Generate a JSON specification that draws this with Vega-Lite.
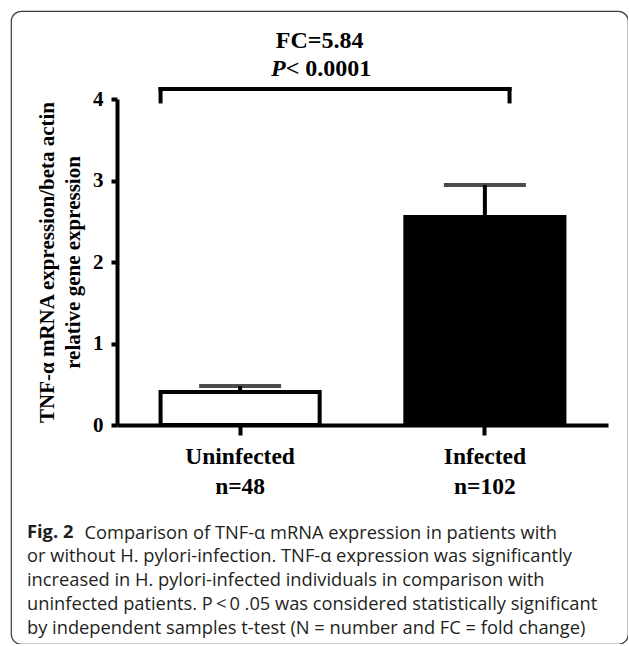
{
  "$schema": "https://vega.github.io/schema/vega-lite/v6.json",
  "width": 617,
  "height": 633,
  "autosize": {"type": "none"},
  "padding": {"left": 11, "top": 11, "right": 0, "bottom": 0},
  "background": "white",
  "config": {
    "view": {"stroke": "#3a3a3a", "strokeWidth": 1.2, "cornerRadius": 10},
    "axis": {"grid": false},
    "font": "Liberation Serif"
  },
  "title": {
    "text": "Fig. 2",
    "subtitle": [
      "or without H. pylori-infection. TNF-α expression was significantly",
      "increased in H. pylori-infected individuals in comparison with",
      "uninfected patients. P\u2009<\u20090 .05 was considered statistically significant",
      "by independent samples t-test (N = number and FC = fold change)"
    ],
    "orient": "bottom",
    "anchor": "start",
    "frame": "group",
    "offset": -120,
    "dx": 16,
    "font": "Open Sans",
    "fontSize": 18.3,
    "fontWeight": "bold",
    "color": "#231f20",
    "subtitleFont": "Open Sans",
    "subtitleFontSize": 18.3,
    "subtitleFontWeight": "normal",
    "subtitleColor": "#231f20",
    "subtitleLineHeight": 24,
    "subtitlePadding": 5.7
  },
  "datasets": {
    "bars": [
      {"group": "Uninfected", "mean": 0.405, "upper": 0.479, "n": "n=48"},
      {"group": "Infected", "mean": 2.552, "upper": 2.945, "n": "n=102"}
    ],
    "bracket": [
      {"from": "Uninfected", "to": "Infected", "top": 4.123, "drop": 3.97, "fc": "FC=5.84", "p": "< 0.0001"}
    ]
  },
  "layer": [
    {
      "data": {"name": "bars"},
      "mark": {"type": "bar", "stroke": "black", "strokeWidth": 4},
      "encoding": {
        "x": {
          "field": "group",
          "type": "nominal",
          "scale": {"domain": ["Uninfected", "Infected"], "range": [106, 597], "paddingInner": 0.35, "paddingOuter": 0.178, "round": false},
          "axis": {
            "orient": "bottom",
            "offset": -219,
            "title": "Comparison of TNF-α mRNA expression in patients with",
            "titleX": 73,
            "titleY": 113,
            "titleAlign": "left",
            "titleAnchor": "start",
            "titleBaseline": "alphabetic",
            "titleFont": "Open Sans",
            "titleFontSize": 18.3,
            "titleFontWeight": "normal",
            "titleColor": "#231f20",
            "labelAngle": 0,
            "labelFont": "Liberation Serif",
            "labelFontWeight": "bold",
            "labelFontSize": 23.5,
            "labelColor": "black",
            "labelPadding": 9,
            "tickSize": 10,
            "tickWidth": 4,
            "tickColor": "black",
            "domainWidth": 4,
            "domainColor": "black"
          }
        },
        "y": {
          "field": "mean",
          "type": "quantitative",
          "scale": {"domain": [0, 4], "range": [414, 88], "nice": false},
          "axis": {
            "values": [0, 1, 2, 3, 4],
            "format": "d",
            "offset": -106,
            "title": ["TNF-α mRNA expression/beta actin", "relative gene expression"],
            "titleFont": "Liberation Serif",
            "titleFontWeight": "bold",
            "titleFontSize": 21,
            "titleLineHeight": 26,
            "titleColor": "black",
            "titlePadding": 9,
            "labelFont": "Liberation Serif",
            "labelFontWeight": "bold",
            "labelFontSize": 21,
            "labelColor": "black",
            "labelPadding": 8,
            "tickSize": 6,
            "tickWidth": 4,
            "tickColor": "black",
            "domainWidth": 4,
            "domainColor": "black"
          }
        },
        "fill": {
          "field": "group",
          "type": "nominal",
          "scale": {"domain": ["Uninfected", "Infected"], "range": ["white", "black"]},
          "legend": null
        }
      }
    },
    {
      "data": {"name": "bars"},
      "mark": {"type": "rule", "strokeWidth": 4, "color": "black"},
      "encoding": {
        "x": {"field": "group", "type": "nominal"},
        "y": {"field": "mean", "type": "quantitative"},
        "y2": {"field": "upper"}
      }
    },
    {
      "data": {"name": "bars"},
      "mark": {"type": "tick", "size": 82, "thickness": 4, "color": "black", "orient": "horizontal"},
      "encoding": {
        "x": {"field": "group", "type": "nominal"},
        "y": {"field": "upper", "type": "quantitative"}
      }
    },
    {
      "data": {"name": "bars"},
      "mark": {"type": "text", "dy": 69, "baseline": "alphabetic", "font": "Liberation Serif", "fontWeight": "bold", "fontSize": 23.5, "color": "black"},
      "encoding": {
        "x": {"field": "group", "type": "nominal"},
        "y": {"datum": 0},
        "text": {"field": "n"}
      }
    },
    {
      "data": {"name": "bracket"},
      "mark": {"type": "rule", "strokeWidth": 4, "color": "black", "strokeCap": "square"},
      "encoding": {
        "x": {"field": "from", "type": "nominal", "bandPosition": 0},
        "x2": {"field": "to", "bandPosition": 0.655},
        "y": {"field": "top", "type": "quantitative"}
      }
    },
    {
      "data": {"name": "bracket"},
      "mark": {"type": "rule", "strokeWidth": 4, "color": "black", "strokeCap": "square"},
      "encoding": {
        "x": {"field": "from", "type": "nominal", "bandPosition": 0},
        "y": {"field": "top", "type": "quantitative"},
        "y2": {"field": "drop"}
      }
    },
    {
      "data": {"name": "bracket"},
      "mark": {"type": "rule", "strokeWidth": 4, "color": "black", "strokeCap": "square"},
      "encoding": {
        "x": {"field": "to", "type": "nominal", "bandPosition": 0.655},
        "y": {"field": "top", "type": "quantitative"},
        "y2": {"field": "drop"}
      }
    },
    {
      "data": {"name": "bracket"},
      "mark": {"type": "text", "dy": -41, "baseline": "alphabetic", "align": "center", "font": "Liberation Serif", "fontWeight": "bold", "fontSize": 24, "color": "black"},
      "encoding": {
        "x": {"field": "from", "type": "nominal", "bandPosition": 1},
        "y": {"field": "top", "type": "quantitative"},
        "text": {"field": "fc"}
      }
    },
    {
      "data": {"name": "bracket"},
      "mark": {"type": "text", "text": "P", "dy": -13, "dx": -34, "baseline": "alphabetic", "align": "right", "font": "Liberation Serif", "fontWeight": "bold", "fontStyle": "italic", "fontSize": 24, "color": "black"},
      "encoding": {
        "x": {"field": "from", "type": "nominal", "bandPosition": 1},
        "y": {"field": "top", "type": "quantitative"}
      }
    },
    {
      "data": {"name": "bracket"},
      "mark": {"type": "text", "dy": -13, "dx": -34, "baseline": "alphabetic", "align": "left", "font": "Liberation Serif", "fontWeight": "bold", "fontSize": 24, "color": "black"},
      "encoding": {
        "x": {"field": "from", "type": "nominal", "bandPosition": 1},
        "y": {"field": "top", "type": "quantitative"},
        "text": {"field": "p"}
      }
    }
  ]
}
